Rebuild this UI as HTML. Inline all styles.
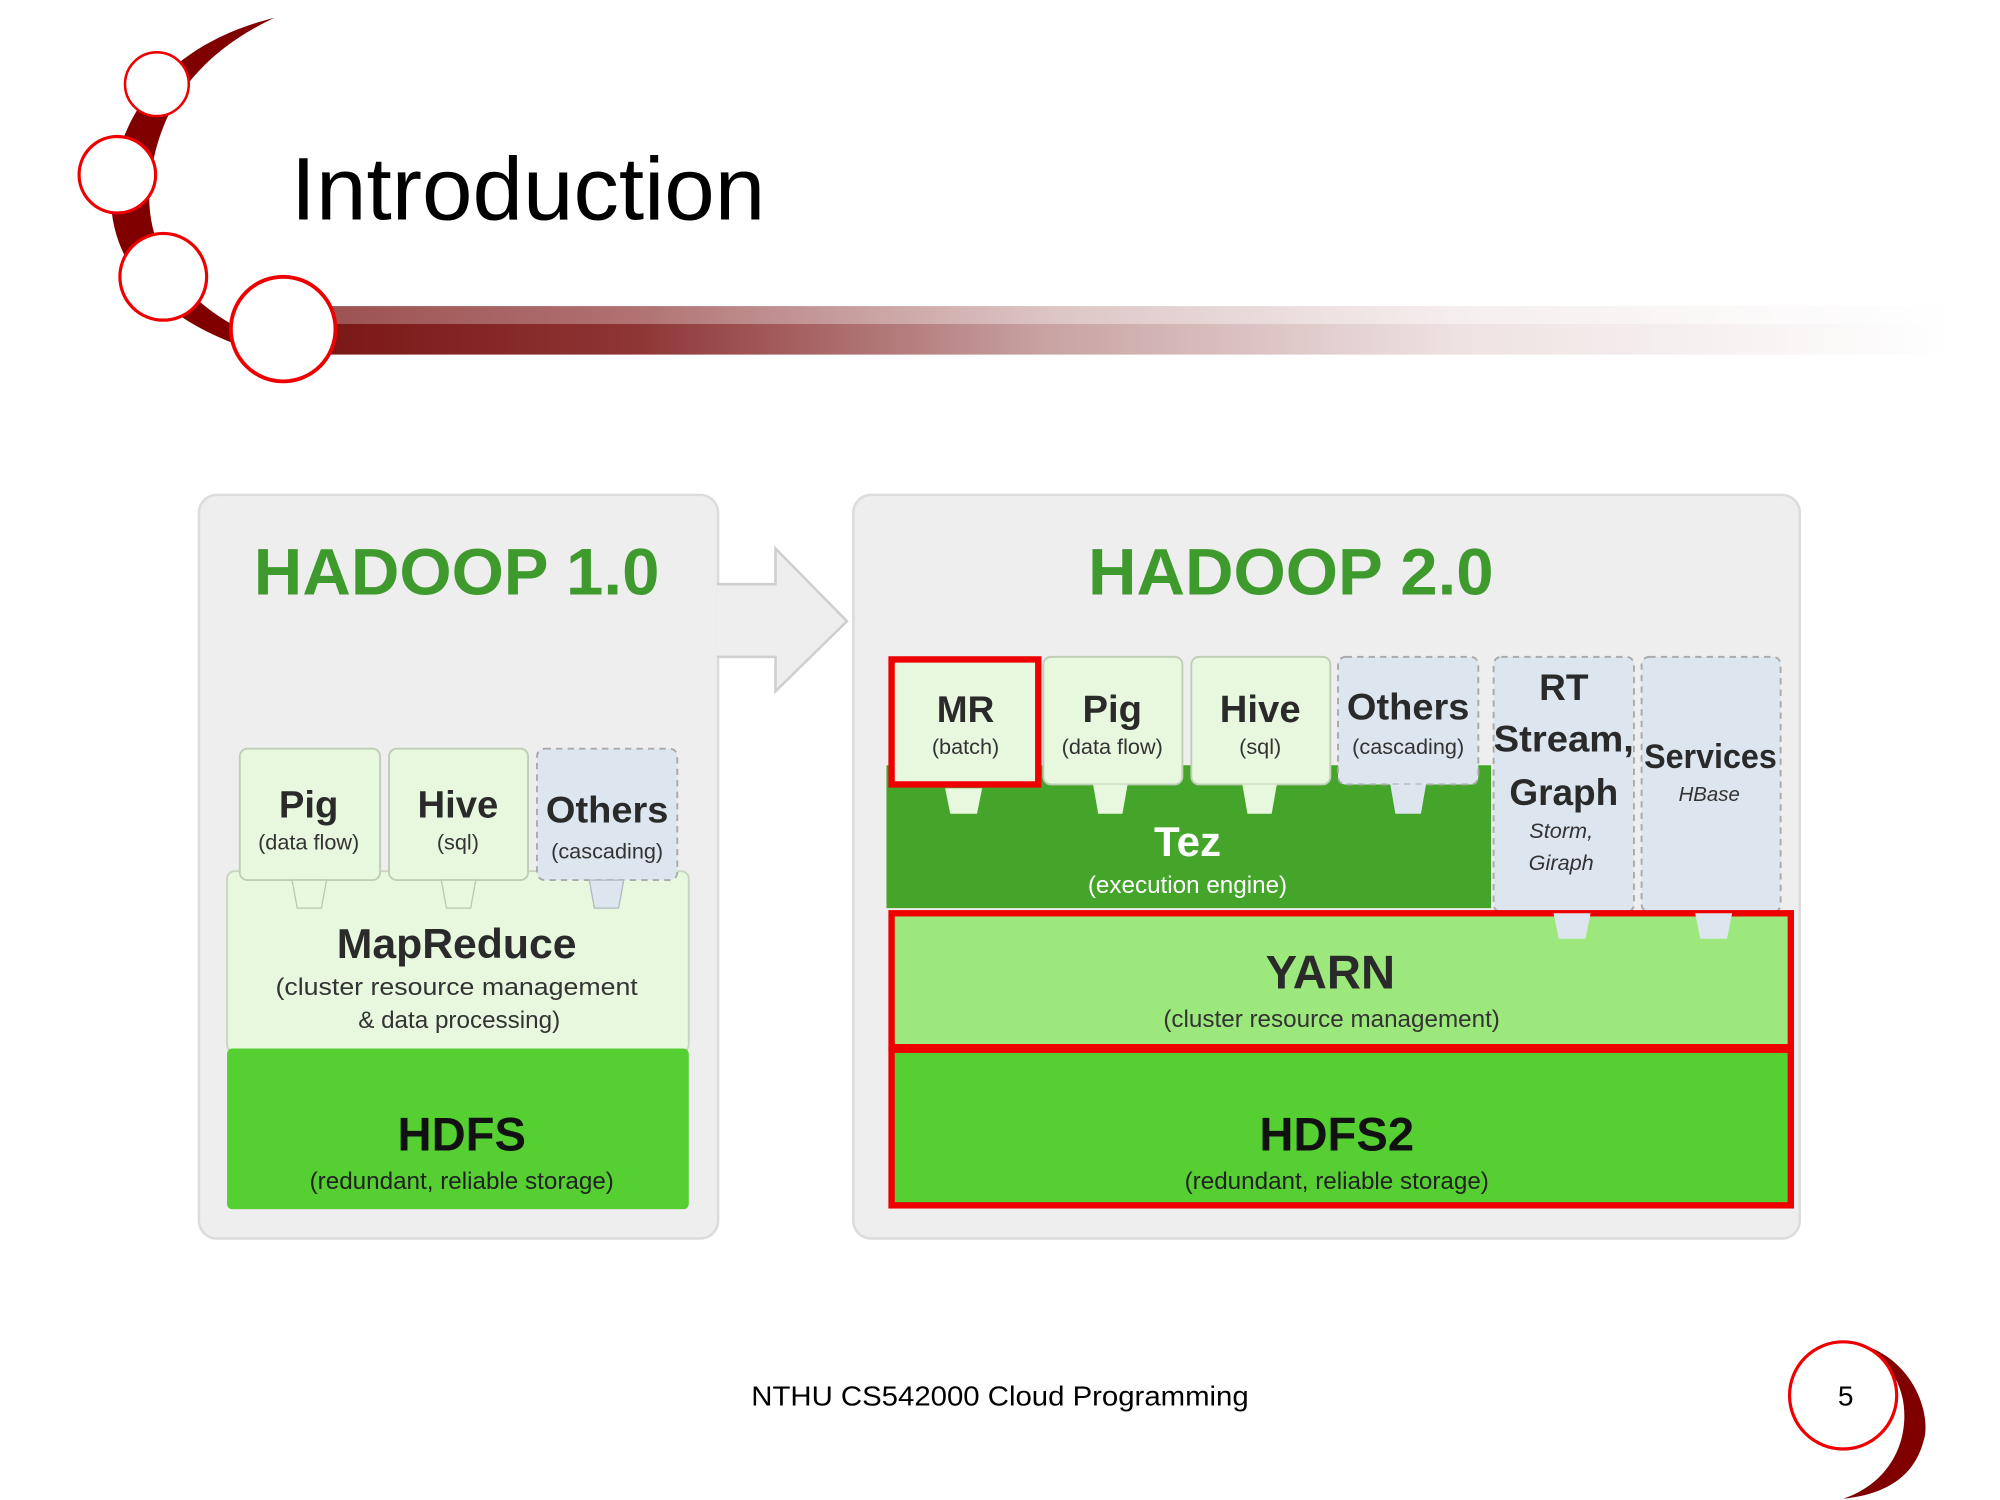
<!DOCTYPE html>
<html><head><meta charset="utf-8"><style>
html,body{margin:0;padding:0;background:#fff;width:2000px;height:1500px;overflow:hidden}
svg{display:block}
.t{font-family:"Liberation Sans",sans-serif}
.b{font-family:"Liberation Sans",sans-serif;font-weight:bold;fill:#2a2a2a}
.s{font-family:"Liberation Sans",sans-serif;fill:#333}
</style></head><body>
<svg width="2000" height="1500" viewBox="0 0 1568 1176" xmlns="http://www.w3.org/2000/svg">
<defs>
<linearGradient id="bar" x1="0" x2="1" y1="0" y2="0">
<stop offset="0" stop-color="#7a1515"/><stop offset="0.2" stop-color="#8e3535"/>
<stop offset="0.45" stop-color="#c9a3a3"/><stop offset="0.7" stop-color="#eee2e2"/><stop offset="1" stop-color="#ffffff"/>
</linearGradient>
<linearGradient id="barTop" x1="0" x2="1" y1="0" y2="0">
<stop offset="0" stop-color="#fff" stop-opacity="0.25"/><stop offset="1" stop-color="#fff" stop-opacity="0.5"/>
</linearGradient>
</defs>
<path d="M215,14 C150,30 100,70 88,140 C80,200 120,250 200,275 L230,275 C150,250 110,200 118,140 C125,80 160,40 215,14 Z" fill="#800000"/>
<rect x="240" y="240" width="1290" height="38" fill="url(#bar)"/>
<rect x="240" y="240" width="1290" height="14" fill="url(#barTop)"/>
<circle cx="123" cy="66" r="25" fill="#fff" stroke="#e00" stroke-width="2"/>
<circle cx="92" cy="137" r="30" fill="#fff" stroke="#e00" stroke-width="2.5"/>
<circle cx="128" cy="217" r="34" fill="#fff" stroke="#e00" stroke-width="2.5"/>
<circle cx="222" cy="258" r="41" fill="#fff" stroke="#e00" stroke-width="3"/>
<text x="228" y="172" class="t" font-size="70" textLength="372" lengthAdjust="spacingAndGlyphs" fill="#000">Introduction</text>

<path d="M1450,1052 C1500,1060 1515,1110 1508,1130 C1500,1160 1475,1172 1445,1175 C1475,1165 1493,1140 1493,1110 C1493,1080 1475,1060 1450,1052 Z" fill="#800000"/>
<circle cx="1445" cy="1094" r="42" fill="#fff" stroke="#e00" stroke-width="2.5"/>
<text x="1447" y="1102" class="t" font-size="22" text-anchor="middle">5</text>
<text x="784" y="1102" class="t" font-size="22" text-anchor="middle" textLength="390" lengthAdjust="spacingAndGlyphs">NTHU CS542000 Cloud Programming</text>

<rect x="156" y="388" width="407" height="583" rx="14" fill="#eeeeee" stroke="#dcdcdc" stroke-width="2"/>
<rect x="669" y="388" width="742" height="583" rx="14" fill="#eeeeee" stroke="#dcdcdc" stroke-width="2"/>
<path d="M562,458 L608,458 L608,430 L664,487 L608,542 L608,515 L562,515" fill="#eeeeee" stroke="#cfcfcf" stroke-width="2"/>
<text x="358" y="466" class="t" font-weight="bold" font-size="52" fill="#3e9a2c" text-anchor="middle" textLength="318" lengthAdjust="spacingAndGlyphs">HADOOP 1.0</text>
<text x="1012" y="466" class="t" font-weight="bold" font-size="52" fill="#3e9a2c" text-anchor="middle" textLength="318" lengthAdjust="spacingAndGlyphs">HADOOP 2.0</text>

<rect x="178" y="683" width="362" height="142" rx="6" fill="#e8f8df" stroke="#c8d6c0" stroke-width="1.5"/>
<rect x="178" y="822" width="362" height="126" rx="4" fill="#56cf33"/>
<rect x="188" y="587" width="110" height="103" rx="6" fill="#e8f8df" stroke="#c0ceb8" stroke-width="1.5"/>
<rect x="305" y="587" width="109" height="103" rx="6" fill="#e8f8df" stroke="#c0ceb8" stroke-width="1.5"/>
<rect x="421" y="587" width="110" height="103" rx="6" fill="#dde6ee" stroke="#aaa" stroke-width="1.5" stroke-dasharray="5,4"/>
<path d="M229,690 L233,712 L252,712 L256,690 Z" fill="#e8f8df" stroke="#b8c8b0"/>
<path d="M346,690 L350,712 L369,712 L373,690 Z" fill="#e8f8df" stroke="#b8c8b0"/>
<path d="M462,690 L466,712 L485,712 L489,690 Z" fill="#dde6ee" stroke="#b0b8c0"/>
<text x="242" y="641" class="b" font-size="30" text-anchor="middle">Pig</text>
<text x="242" y="666" class="s" font-size="17" text-anchor="middle">(data flow)</text>
<text x="359" y="641" class="b" font-size="30" text-anchor="middle">Hive</text>
<text x="359" y="666" class="s" font-size="17" text-anchor="middle">(sql)</text>
<text x="476" y="645" class="b" font-size="29" text-anchor="middle" textLength="96" lengthAdjust="spacingAndGlyphs">Others</text>
<text x="476" y="673" class="s" font-size="17" text-anchor="middle">(cascading)</text>
<text x="358" y="751" class="b" font-size="33" text-anchor="middle" textLength="188" lengthAdjust="spacingAndGlyphs">MapReduce</text>
<text x="358" y="780" class="s" font-size="19" text-anchor="middle" textLength="284" lengthAdjust="spacingAndGlyphs">(cluster resource management</text>
<text x="360" y="806" class="s" font-size="19" text-anchor="middle">&amp; data processing)</text>
<text x="362" y="902" class="b" font-size="37" text-anchor="middle" style="fill:#111">HDFS</text>
<text x="362" y="932" class="s" font-size="19" text-anchor="middle" style="fill:#222">(redundant, reliable storage)</text>

<path d="M695,600 L1169,600 L1169,712 L695,712 Z" fill="#44a52a"/>
<rect x="818" y="515" width="109" height="100" rx="6" fill="#e8f8df" stroke="#c0ceb8" stroke-width="1.5"/>
<rect x="934" y="515" width="109" height="100" rx="6" fill="#e8f8df" stroke="#c0ceb8" stroke-width="1.5"/>
<rect x="1049" y="515" width="110" height="100" rx="6" fill="#dde6ee" stroke="#aaa" stroke-width="1.5" stroke-dasharray="5,4"/>
<rect x="1171" y="515" width="110" height="200" rx="6" fill="#dde6ee" stroke="#aaa" stroke-width="1.5" stroke-dasharray="5,4"/>
<rect x="1287" y="515" width="109" height="200" rx="6" fill="#dde6ee" stroke="#aaa" stroke-width="1.5" stroke-dasharray="5,4"/>
<rect x="699" y="517" width="115" height="98" fill="#e8f8df" stroke="#ee0000" stroke-width="5"/>
<path d="M741,618 L745,638 L766,638 L770,618 Z" fill="#e8f8df"/>
<path d="M857,615 L861,638 L880,638 L884,615 Z" fill="#e8f8df"/>
<path d="M974,615 L978,638 L997,638 L1001,615 Z" fill="#e8f8df"/>
<path d="M1090,615 L1094,638 L1114,638 L1118,615 Z" fill="#dde6ee"/>
<text x="757" y="566" class="b" font-size="29" text-anchor="middle">MR</text>
<text x="757" y="591" class="s" font-size="17" text-anchor="middle">(batch)</text>
<text x="872" y="566" class="b" font-size="30" text-anchor="middle">Pig</text>
<text x="872" y="591" class="s" font-size="17" text-anchor="middle">(data flow)</text>
<text x="988" y="566" class="b" font-size="30" text-anchor="middle">Hive</text>
<text x="988" y="591" class="s" font-size="17" text-anchor="middle">(sql)</text>
<text x="1104" y="564" class="b" font-size="29" text-anchor="middle" textLength="96" lengthAdjust="spacingAndGlyphs">Others</text>
<text x="1104" y="591" class="s" font-size="17" text-anchor="middle">(cascading)</text>
<text x="1226" y="549" class="b" font-size="29" text-anchor="middle">RT</text>
<text x="1226" y="589" class="b" font-size="29" text-anchor="middle" textLength="110" lengthAdjust="spacingAndGlyphs">Stream,</text>
<text x="1226" y="631" class="b" font-size="29" text-anchor="middle">Graph</text>
<text x="1224" y="657" class="s" font-size="17" font-style="italic" text-anchor="middle">Storm,</text>
<text x="1224" y="682" class="s" font-size="17" font-style="italic" text-anchor="middle">Giraph</text>
<text x="1341" y="602" class="b" font-size="27" text-anchor="middle" textLength="104" lengthAdjust="spacingAndGlyphs">Services</text>
<text x="1340" y="628" class="s" font-size="16" font-style="italic" text-anchor="middle">HBase</text>
<text x="931" y="671" class="t" font-weight="bold" font-size="33" fill="#fff" text-anchor="middle">Tez</text>
<text x="931" y="700" class="t" font-size="19" fill="#fff" text-anchor="middle">(execution engine)</text>
<rect x="699" y="716" width="705" height="105" fill="#9de87c" stroke="#ee0000" stroke-width="5"/>
<path d="M1218,716 L1222,736 L1243,736 L1247,716 Z" fill="#dde6ee"/>
<path d="M1329,716 L1333,736 L1354,736 L1358,716 Z" fill="#dde6ee"/>
<rect x="699" y="823" width="705" height="122" fill="#56cf33" stroke="#ee0000" stroke-width="5"/>
<text x="1043" y="775" class="b" font-size="37" text-anchor="middle">YARN</text>
<text x="1044" y="805" class="s" font-size="19" text-anchor="middle">(cluster resource management)</text>
<text x="1048" y="902" class="b" font-size="37" text-anchor="middle" style="fill:#111">HDFS2</text>
<text x="1048" y="932" class="s" font-size="19" text-anchor="middle" style="fill:#222">(redundant, reliable storage)</text>
</svg>
</body></html>
